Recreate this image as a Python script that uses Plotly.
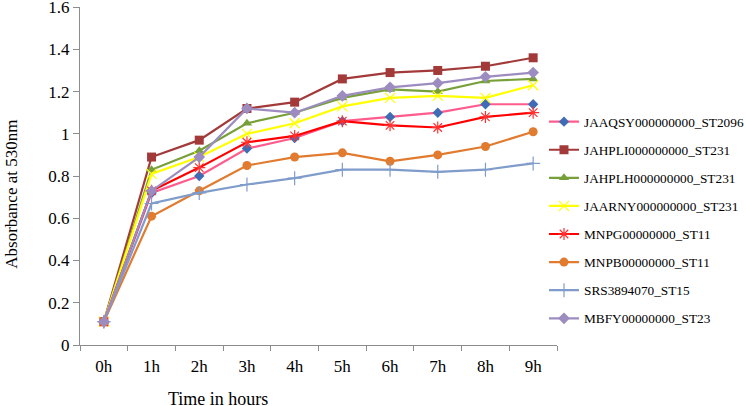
import plotly.graph_objects as go

hours = ["0h", "1h", "2h", "3h", "4h", "5h", "6h", "7h", "8h", "9h"]

names = [
    "JAAQSY000000000_ST2096",
    "JAHPLI000000000_ST231",
    "JAHPLH000000000_ST231",
    "JAARNY000000000_ST231",
    "MNPG00000000_ST11",
    "MNPB00000000_ST11",
    "SRS3894070_ST15",
    "MBFY00000000_ST23",
]

jaaqsy = [0.11, 0.72, 0.80, 0.93, 0.98, 1.06, 1.08, 1.10, 1.14, 1.14]
jahpli = [0.11, 0.89, 0.97, 1.12, 1.15, 1.26, 1.29, 1.30, 1.32, 1.36]
jahplh = [0.11, 0.83, 0.92, 1.05, 1.10, 1.17, 1.21, 1.20, 1.25, 1.26]
jaarny = [0.11, 0.81, 0.89, 1.00, 1.05, 1.13, 1.17, 1.18, 1.17, 1.23]
mnpg = [0.11, 0.73, 0.84, 0.96, 0.99, 1.06, 1.04, 1.03, 1.08, 1.10]
mnpb = [0.11, 0.61, 0.73, 0.85, 0.89, 0.91, 0.87, 0.90, 0.94, 1.01]
srs = [0.11, 0.67, 0.72, 0.76, 0.79, 0.83, 0.83, 0.82, 0.83, 0.86]
mbfy = [0.11, 0.73, 0.89, 1.12, 1.10, 1.18, 1.22, 1.24, 1.27, 1.29]

series = [jaaqsy, jahpli, jahplh, jaarny, mnpg, mnpb, srs, mbfy]

styles = [
    dict(line="#FF5C8D", mcolor="#3E6DB5", symbol="diamond", size=8, open=False),
    dict(line="#A33A3A", mcolor="#A33A3A", symbol="square", size=9, open=False),
    dict(line="#77A03A", mcolor="#77A03A", symbol="triangle-up", size=9, open=False),
    dict(line="#FFFF00", mcolor="#FFFF00", symbol="x-thin-open", size=10, open=True),
    dict(line="#FF0000", mcolor="#FF3030", symbol="asterisk-open", size=10, open=True),
    dict(line="#E07B30", mcolor="#E07B30", symbol="circle", size=9, open=False),
    dict(line="#7F9CCB", mcolor="#7F9CCB", symbol="cross-thin-open", size=10, open=True),
    dict(line="#9D8CC0", mcolor="#9D8CC0", symbol="diamond", size=9, open=False),
]

fig = go.Figure()
for i, (nm, vals, st) in enumerate(zip(names, series, styles)):
    marker = dict(symbol=st["symbol"], size=st["size"], color=st["mcolor"])
    if st["open"]:
        marker["line"] = dict(color=st["mcolor"], width=1.2)
    else:
        marker["line"] = dict(width=0)
    fig.add_trace(go.Scatter(
        x=hours, y=vals, name=nm, mode="lines+markers",
        line=dict(color=st["line"], width=2.2),
        marker=marker, legendgroup=f"g{i}",
    ))

W, H = 756, 406
L, R, T, B = 80, 194, 7, 61
PW = W - L - R
PH = H - T - B
font = "Liberation Serif, Times New Roman, serif"
fig.update_layout(
    width=W, height=H,
    margin=dict(l=L, r=R, t=T, b=B),
    paper_bgcolor="white", plot_bgcolor="white",
    font=dict(family=font, size=17, color="black"),
    showlegend=True,
    legend=dict(
        x=(W - L) / PW, xanchor="right", y=(345 - 220) / PH, yanchor="middle",
        font=dict(family=font, size=13.3, color="black"),
        tracegroupgap=7.8, bgcolor="rgba(0,0,0,0)", itemwidth=30,
        borderwidth=0,
    ),
    xaxis=dict(
        type="category", range=[-0.5, 9.5], automargin=False,
        showline=True, linecolor="#8C8C8C", linewidth=1,
        ticks="outside", tickcolor="#8C8C8C", ticklen=5,
        tickson="boundaries", showgrid=False, zeroline=False,
        tickfont=dict(size=17), ticklabelstandoff=6,
    ),
    yaxis=dict(
        range=[0, 1.6005], tickvals=[0, 0.2, 0.4, 0.6, 0.8, 1, 1.2, 1.4, 1.6],
        ticktext=["0", "0.2", "0.4", "0.6", "0.8", "1", "1.2", "1.4", "1.6"],
        automargin=False, ticklabeloverflow="allow",
        showline=True, linecolor="#8C8C8C", linewidth=1,
        ticks="outside", tickcolor="#8C8C8C", ticklen=6,
        showgrid=False, zeroline=False,
        tickfont=dict(size=17),
    ),
    annotations=[
        dict(text="Time in hours", xref="paper", yref="paper",
             x=(219 - L) / PW, y=-42 / PH, xanchor="center", yanchor="top",
             showarrow=False, font=dict(family=font, size=18)),
        dict(text="Absorbance at 530nm", xref="paper", yref="paper",
             x=-70 / PW, y=(345 - 194) / PH, xanchor="center", yanchor="middle",
             textangle=-90, showarrow=False, font=dict(family=font, size=17)),
    ],
)

fig.write_html(
    "out.html",
    config={"displayModeBar": False},
    post_script="document.body.style.margin='0';document.body.style.overflow='hidden';",
)
